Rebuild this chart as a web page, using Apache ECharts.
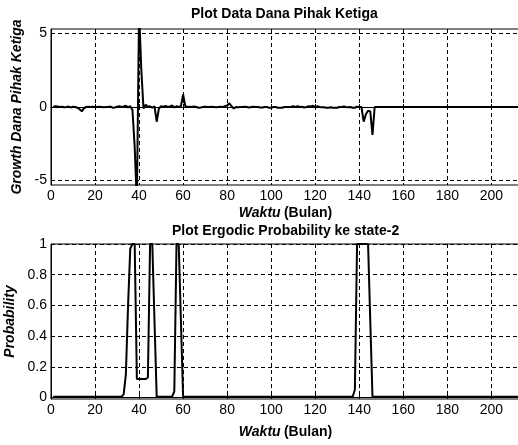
<!DOCTYPE html>
<html>
<head>
<meta charset="utf-8">
<script src="https://cdn.jsdelivr.net/npm/echarts@6/dist/echarts.min.js"></script>
</head>
<body style="margin:0">
<div id="main" style="width:518px;height:445px;"></div>
<script>
// growth DPK per bulan (t = 1..213)
var dpk = [
  0.02, 0.05, 0.03, 0.0, 0.02, -0.02, 0.0, 0.03, -0.03, 0.02,
  0.0, -0.05, -0.15, -0.3, -0.08, 0.0, 0.02, 0.0, 0.01, 0.0,
  0.0, 0.02, 0.0, -0.02, 0.0, 0.0, 0.03, -0.05, -0.03, 0.02,
  0.05, 0.0, 0.03, 0.08, -0.02, 0.05, -0.2, -2.7, -6.5, 6.5,
  2.6, -0.1, 0.15, 0.0, 0.05, -0.05, 0.05, -1.0, -0.1, 0.05,
  0.0, 0.08, 0.0, 0.03, 0.1, -0.03, 0.05, 0.0, 0.05, 0.85,
  0.05, 0.0, 0.02, 0.0, 0.03, 0.0, -0.05, -0.03, 0.0, 0.02,
  0.0, 0.0, 0.02, 0.0, -0.02, 0.0, 0.02, 0.0, 0.05, 0.1,
  0.25, 0.05, -0.1, 0.0, -0.02, 0.0, 0.0, 0.02, 0.0, -0.03,
  0.0, 0.02, 0.0, 0.0, -0.04, -0.04, 0.0, 0.0, -0.05, -0.05,
  0.0, 0.0, -0.05, -0.05, -0.05, 0.0, 0.0, 0.0, 0.02, 0.05,
  0.0, 0.05, 0.0, 0.02, -0.03, 0.0, 0.05, 0.03, 0.08, 0.0,
  0.05, 0.0, -0.02, -0.02, -0.05, -0.05, -0.02, -0.05, -0.05, -0.05,
  0.0, 0.0, 0.03, 0.0, -0.02, 0.0, -0.05, -0.05, 0.02, 0.0,
  0.0, -1.0, -0.5, -0.25, -0.3, -1.9, 0, 0, 0, 0,
  0, 0, 0, 0, 0, 0, 0, 0, 0, 0,
  0, 0, 0, 0, 0, 0, 0, 0, 0, 0,
  0, 0, 0, 0, 0, 0, 0, 0, 0, 0,
  0, 0, 0, 0, 0, 0, 0, 0, 0, 0,
  0, 0, 0, 0, 0, 0, 0, 0, 0, 0,
  0, 0, 0, 0, 0, 0, 0, 0, 0, 0,
  0, 0, 0
];

// ergodic probability ke state-2 (t = 1..213)
var prob = [
  0.005, 0.005, 0.005, 0.005, 0.005, 0.005, 0.005, 0.005, 0.005, 0.005,
  0.005, 0.005, 0.005, 0.005, 0.005, 0.005, 0.005, 0.005, 0.005, 0.005,
  0.005, 0.005, 0.005, 0.005, 0.005, 0.005, 0.005, 0.005, 0.005, 0.005,
  0.005, 0.005, 0.02, 0.15, 0.6, 0.97, 1.0, 1.0, 0.12, 0.12,
  0.12, 0.12, 0.12, 0.13, 1.0, 1.0, 0.5, 0.005, 0.005, 0.005,
  0.005, 0.005, 0.005, 0.005, 0.005, 0.04, 1.0, 1.0, 0.5, 0.005,
  0.005, 0.005, 0.005, 0.005, 0.005, 0.005, 0.005, 0.005, 0.005, 0.005,
  0.005, 0.005, 0.005, 0.005, 0.005, 0.005, 0.005, 0.005, 0.005, 0.005,
  0.005, 0.005, 0.005, 0.005, 0.005, 0.005, 0.005, 0.005, 0.005, 0.005,
  0.005, 0.005, 0.005, 0.005, 0.005, 0.005, 0.005, 0.005, 0.005, 0.005,
  0.005, 0.005, 0.005, 0.005, 0.005, 0.005, 0.005, 0.005, 0.005, 0.005,
  0.005, 0.005, 0.005, 0.005, 0.005, 0.005, 0.005, 0.005, 0.005, 0.005,
  0.005, 0.005, 0.005, 0.005, 0.005, 0.005, 0.005, 0.005, 0.005, 0.005,
  0.005, 0.005, 0.005, 0.005, 0.005, 0.005, 0.005, 0.05, 1.0, 1.0,
  1.0, 1.0, 1.0, 1.0, 0.5, 0.005, 0.005, 0.005, 0.005, 0.005,
  0.005, 0.005, 0.005, 0.005, 0.005, 0.005, 0.005, 0.005, 0.005, 0.005,
  0.005, 0.005, 0.005, 0.005, 0.005, 0.005, 0.005, 0.005, 0.005, 0.005,
  0.005, 0.005, 0.005, 0.005, 0.005, 0.005, 0.005, 0.005, 0.005, 0.005,
  0.005, 0.005, 0.005, 0.005, 0.005, 0.005, 0.005, 0.005, 0.005, 0.005,
  0.005, 0.005, 0.005, 0.005, 0.005, 0.005, 0.005, 0.005, 0.005, 0.005,
  0.005, 0.005, 0.005, 0.005, 0.005, 0.005, 0.005, 0.005, 0.005, 0.005,
  0.005, 0.005, 0.005
];

var yTicksTop = [-5, 0, 5];
var yTicksBot = [0, 0.2, 0.4, 0.6, 0.8, 1];

var font = 'Liberation Sans';

function pairs(arr) {
  var out = [];
  for (var i = 0; i < arr.length; i++) out.push([i + 1, arr[i]]);
  return out;
}

var gridLine = {show: true, lineStyle: {color: '#000', width: 1, type: [4, 3]}};

function xAx(idx, gap) {
  return {
    gridIndex: idx, type: 'value', min: 0, max: 213, interval: 20,
    axisLine: {show: true, lineStyle: {color: '#000', width: 1}},
    axisTick: {inside: true, length: 3, lineStyle: {color: '#000'}},
    axisLabel: {showMaxLabel: false, margin: 4, color: '#000', fontSize: 14, fontFamily: font},
    splitLine: gridLine,
    name: '{a|Waktu} {b|(Bulan)}', nameLocation: 'middle', nameGap: gap,
    nameTextStyle: {rich: {
      a: {fontFamily: font, fontSize: 14, fontWeight: 'bold', fontStyle: 'italic', color: '#000'},
      b: {fontFamily: font, fontSize: 14, fontWeight: 'bold', color: '#000'}
    }}
  };
}

function yAx(idx, mn, mx, ticks, name, gap) {
  return {
    gridIndex: idx, type: 'value', min: mn, max: mx,
    axisLine: {show: true, lineStyle: {color: '#000', width: 1}},
    axisTick: {inside: true, length: 3, customValues: ticks, lineStyle: {color: '#000'}},
    axisLabel: {customValues: ticks, margin: 4, color: '#000', fontSize: 14, fontFamily: font},
    splitLine: gridLine,
    name: name, nameLocation: 'middle', nameGap: gap, nameMoveOverlap: false,
    nameTextStyle: {fontFamily: font, fontSize: 14, fontWeight: 'bold', fontStyle: 'italic', color: '#000'}
  };
}

var myChart = echarts.init(document.getElementById('main'));
var option = {
  animation: false,
  backgroundColor: '#fff',
  title: [
    {text: 'Plot Data Dana Pihak Ketiga', left: 186, top: 2,
     textStyle: {fontFamily: font, fontSize: 14, fontWeight: 'bold', color: '#000'}},
    {text: 'Plot Ergodic Probability ke state-2', left: 167, top: 219,
     textStyle: {fontFamily: font, fontSize: 14, fontWeight: 'bold', color: '#000'}}
  ],
  grid: [
    {left: 51, top: 29, right: -2, height: 156, outerBoundsMode: 'none',
     show: true, borderColor: '#000', borderWidth: 1, backgroundColor: '#fff'},
    {left: 51, top: 244, right: -2, height: 155, outerBoundsMode: 'none',
     show: true, borderColor: '#000', borderWidth: 1, backgroundColor: '#fff'}
  ],
  xAxis: [xAx(0, 21), xAx(1, 26)],
  yAxis: [
    yAx(0, -5.3, 5.3, yTicksTop, 'Growth Dana Pihak Ketiga', 27),
    yAx(1, -0.01, 1, yTicksBot, 'Probability', 34)
  ],
  series: [
    {type: 'line', xAxisIndex: 0, yAxisIndex: 0, data: pairs(dpk), showSymbol: false,
     lineStyle: {color: '#000', width: 2}, clip: true},
    {type: 'line', xAxisIndex: 1, yAxisIndex: 1, data: pairs(prob), showSymbol: false,
     lineStyle: {color: '#000', width: 2}, clip: true}
  ]
};
myChart.setOption(option);
</script>
</body>
</html>
